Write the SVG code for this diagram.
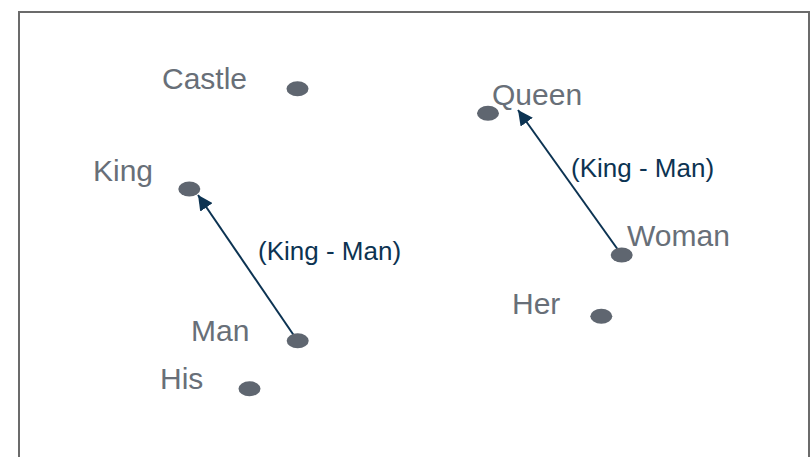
<svg xmlns="http://www.w3.org/2000/svg" width="812" height="457" viewBox="0 0 812 457">
  <defs>
    <style>
      .word { font-family: "Liberation Sans", Arial, sans-serif; font-size: 30px; fill: #686f78; }
      .dot { fill: #5f6670; }
      .vec { stroke: #0c3352; stroke-width: 2; fill: none; marker-end: url(#head); }
      .vlabel { font-family: "Liberation Sans", Arial, sans-serif; font-size: 26px; fill: #0c3352; }
    </style>
    <marker id="head" viewBox="0 0 10 10" refX="10" refY="5" markerWidth="7.5" markerHeight="7.5" orient="auto" markerUnits="strokeWidth">
      <path d="M0,0 L10,5 L0,10 z" fill="#0c3352"/>
    </marker>
  </defs>

  <rect x="19" y="12" width="790" height="460" fill="#ffffff" stroke="#6b6b6b" stroke-width="2"/>

  <!-- vector offsets -->
  <g id="connectors">
    <line class="vec" x1="297" y1="340" x2="198" y2="195"/>
    <text class="vlabel" x="258" y="260">(King - Man)</text>
    <line class="vec" x1="621" y1="254" x2="518" y2="110"/>
    <text class="vlabel" x="571" y="177">(King - Man)</text>
  </g>

  <g id="castle">
    <ellipse class="dot" cx="297.5" cy="88.8" rx="11" ry="7.5"/>
    <text class="word" x="162" y="89">Castle</text>
  </g>
  <g id="queen">
    <ellipse class="dot" cx="488" cy="113.3" rx="11" ry="7.5"/>
    <text class="word" x="492" y="105">Queen</text>
  </g>
  <g id="king">
    <ellipse class="dot" cx="189.3" cy="189" rx="11" ry="7.5"/>
    <text class="word" x="93" y="181">King</text>
  </g>
  <g id="woman">
    <ellipse class="dot" cx="621.7" cy="255" rx="11" ry="7.5"/>
    <text class="word" x="627" y="246">Woman</text>
  </g>
  <g id="her">
    <ellipse class="dot" cx="601.3" cy="316.3" rx="11" ry="7.5"/>
    <text class="word" x="512" y="314">Her</text>
  </g>
  <g id="man">
    <ellipse class="dot" cx="297.7" cy="340.8" rx="11" ry="7.5"/>
    <text class="word" x="191" y="341">Man</text>
  </g>
  <g id="his">
    <ellipse class="dot" cx="249.5" cy="388.8" rx="11" ry="7.5"/>
    <text class="word" x="160" y="389">His</text>
  </g>
</svg>
